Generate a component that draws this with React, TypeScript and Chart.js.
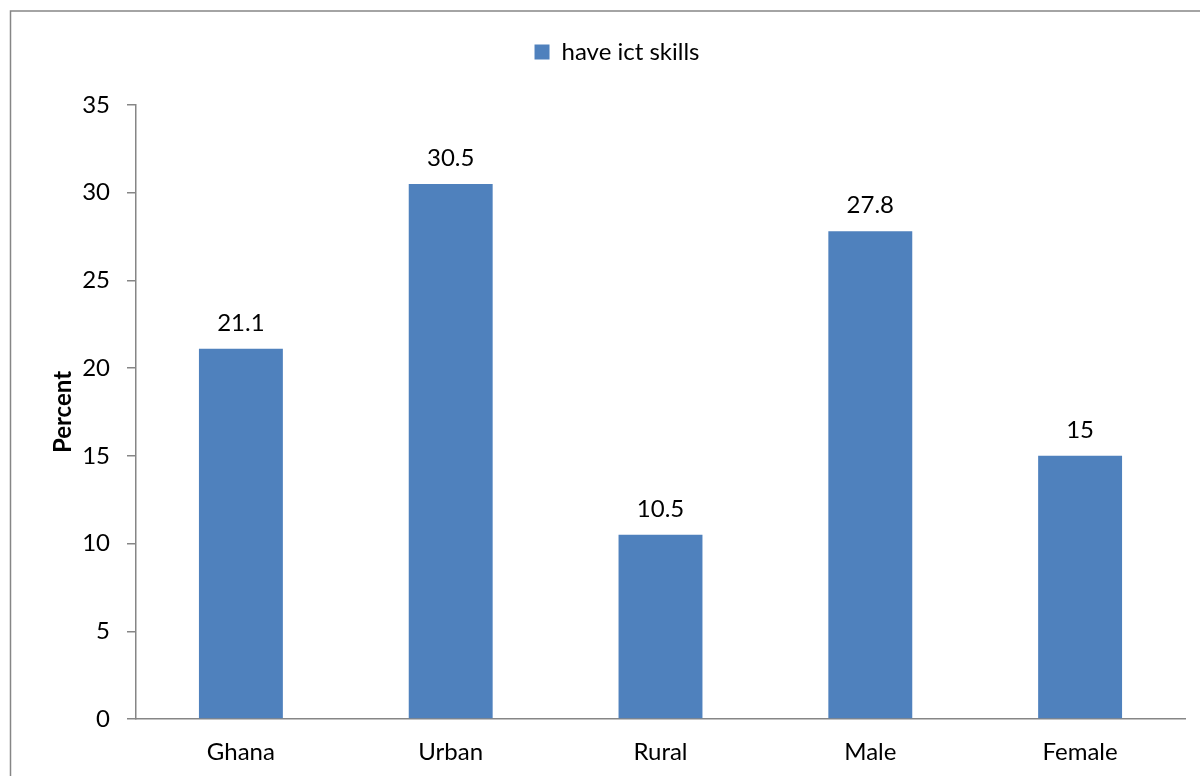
import React, { useEffect, useRef } from "react";
import { Chart, registerables } from "chart.js";

Chart.register(...registerables);

const categories: string[] = ["Ghana", "Urban", "Rural", "Male", "Female"];
const haveIctSkills: number[] = [21.1, 30.5, 10.5, 27.8, 15];
const seriesLabel = "have ict skills";
const yMin = 0;
const yMax = 35;
const yStep = 5;

const FONT = "Lato, 'Open Sans', sans-serif";
const BAR_COLOR = "#4F81BD";
const AXIS_COLOR = "#868686";

const framePlugin = {
  id: "frame",
  beforeDraw(chart: any) {
    const ctx = chart.ctx;
    ctx.save();
    ctx.fillStyle = "#ffffff";
    ctx.fillRect(0, 0, chart.width, chart.height);
    ctx.strokeStyle = AXIS_COLOR;
    ctx.lineWidth = 1.5;
    ctx.strokeRect(10.5, 11, chart.width + 20, chart.height + 20);
    ctx.restore();
  },
};

const legendGapPlugin = {
  id: "legendGap",
  beforeLayout(chart: any) {
    const legend = chart.legend;
    if (legend && !legend.__gapPatched) {
      const origFit = legend.fit;
      legend.fit = function (this: any) {
        origFit.call(this);
        this.height += 31;
      };
      legend.__gapPatched = true;
    }
  },
};

const valueLabelPlugin = {
  id: "valueLabels",
  afterDatasetsDraw(chart: any) {
    const ctx = chart.ctx;
    const meta = chart.getDatasetMeta(0);
    const data = chart.data.datasets[0].data as number[];
    ctx.save();
    ctx.font = `24px ${FONT}`;
    ctx.fillStyle = "#000000";
    ctx.textAlign = "center";
    ctx.textBaseline = "alphabetic";
    meta.data.forEach((bar: any, i: number) => {
      ctx.fillText(String(data[i]), bar.x, bar.y - 18);
    });
    ctx.restore();
  },
};

export default function App() {
  const canvasRef = useRef<HTMLCanvasElement | null>(null);

  useEffect(() => {
    if (!canvasRef.current) return;
    const chart = new Chart(canvasRef.current, {
      type: "bar",
      data: {
        labels: categories,
        datasets: [
          {
            label: seriesLabel,
            data: haveIctSkills,
            backgroundColor: BAR_COLOR,
            borderWidth: 0,
            categoryPercentage: 1,
            barPercentage: 0.4,
          },
        ],
      },
      options: {
        animation: false,
        responsive: false,
        maintainAspectRatio: false,
        layout: { padding: { left: 49, right: 15, top: 0, bottom: 12 } },
        plugins: {
          legend: {
            display: true,
            position: "top",
            labels: {
              boxWidth: 15,
              boxHeight: 15,
              color: "#000000",
              font: { family: FONT, size: 24 },
              padding: 40,
            },
          },
          tooltip: { enabled: false },
          title: { display: false },
        },
        scales: {
          x: {
            afterFit(scale: any) {
              scale.height = 45;
            },
            grid: { display: false, drawTicks: false, tickLength: 0 },
            border: { display: true, color: AXIS_COLOR, width: 1.5 },
            ticks: {
              color: "#000000",
              font: { family: FONT, size: 24 },
              padding: 19,
            },
          },
          y: {
            min: yMin,
            max: yMax,
            afterFit(scale: any) {
              scale.width = 87;
            },
            ticks: {
              stepSize: yStep,
              color: "#000000",
              font: { family: FONT, size: 24 },
              padding: 17,
            },
            grid: {
              display: true,
              drawOnChartArea: false,
              drawTicks: true,
              tickLength: 9,
              color: AXIS_COLOR,
              lineWidth: 1.5,
            },
            border: { display: true, color: AXIS_COLOR, width: 1.5 },
            title: {
              display: true,
              text: "Percent",
              color: "#000000",
              font: { family: FONT, size: 24, weight: "bold" },
              padding: 0,
            },
          },
        },
      },
      plugins: [framePlugin, legendGapPlugin, valueLabelPlugin],
    });
    return () => chart.destroy();
  }, []);

  return (
    <div style={{ position: "fixed", left: 0, top: 0, width: 1200, height: 776, background: "#fff" }}>
      <canvas ref={canvasRef} width={1200} height={776} style={{ width: 1200, height: 776, display: "block" }} />
    </div>
  );
}
